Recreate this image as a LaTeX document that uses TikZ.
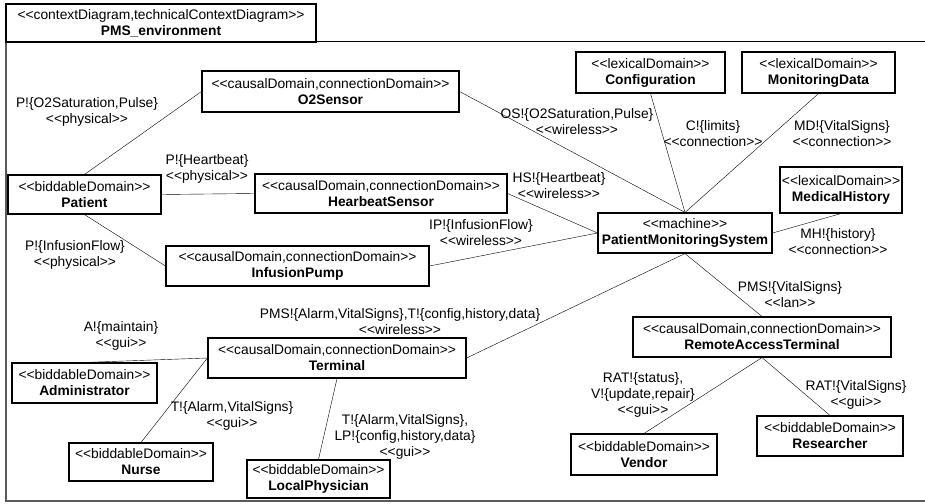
\documentclass[tikz,border=0pt]{standalone}
\usepackage{fontspec}
\setmainfont{Liberation Sans}
\usepackage{tikz}

\newcommand{\stereo}[1]{<{}<#1>{}>}

\begin{document}
\begin{tikzpicture}[
		x=1pt, y=-1pt,
		every node/.style={rectangle, draw, line width=1.1pt, align=center, inner sep=0pt,
			font=\fontsize{13.8}{16}\selectfont},
		box/.style 2 args={minimum width=#1pt, minimum height=#2pt},
		lbl/.style={draw=none}
	]
  \useasboundingbox (0,0) rectangle (925,503);
  \draw[line width=1.6pt, black!65] (6,4) -- (6,501) -- (926,501);
  \draw[line width=1pt] (6,42) -- (926,42);
  \node (pms_env) [box={310}{38}] at (161,23) {\stereo{contextDiagram,technicalContextDiagram}\\\textbf{PMS\_environment}};

  \node (o2) [box={257}{41}] at (330.5,91.5) {\stereo{causalDomain,connectionDomain}\\\textbf{O2Sensor}};
  \node (patient) [box={153}{39}] at (84.5,194.5) {\stereo{biddableDomain}\\\textbf{Patient}};
  \node (hb) [box={252}{39}] at (381,193.5) {\stereo{causalDomain,connectionDomain}\\\textbf{HearbeatSensor}};
  \node (ip) [box={263}{40}] at (297.5,266) {\stereo{causalDomain,connectionDomain}\\\textbf{InfusionPump}};
  \node (config) [box={149}{41}] at (650.5,72.5) {\stereo{lexicalDomain}\\\textbf{Configuration}};
  \node (mon_data) [box={153}{41}] at (818.5,72.5) {\stereo{lexicalDomain}\\\textbf{MonitoringData}};
  \node (med_hist) [box={122}{46}] at (841,190) {\stereo{lexicalDomain}\\\textbf{MedicalHistory}};
  \node (pms) [box={174}{40}] at (685,233) {\stereo{machine}\\\textbf{PatientMonitoringSystem}};
  \node (terminal) [box={258}{40}] at (337,358) {\stereo{causalDomain,connectionDomain}\\\textbf{Terminal}};
  \node (admin) [box={145}{40}] at (84.5,383) {\stereo{biddableDomain}\\\textbf{Administrator}};
  \node (nurse) [box={144}{38}] at (141,462) {\stereo{biddableDomain}\\\textbf{Nurse}};
  \node (lp) [box={143}{38}] at (318.5,479) {\stereo{biddableDomain}\\\textbf{LocalPhysician}};
  \node (rat) [box={258}{40}] at (762,337) {\stereo{causalDomain,connectionDomain}\\\textbf{RemoteAccessTerminal}};
  \node (vendor) [box={146}{41}] at (644,454.5) {\stereo{biddableDomain}\\\textbf{Vendor}};
  \node (researcher) [box={146}{40}] at (830,436) {\stereo{biddableDomain}\\\textbf{Researcher}};

  % phenomena
  \node (l_o2) [lbl] at (87,112) {P!\{O2Saturation,Pulse\}\\\stereo{physical}};
  \node (l_hb) [lbl] at (207,169) {P!\{Heartbeat\}\\\stereo{physical}};
  \node (l_ip) [lbl] at (75,255) {P!\{InfusionFlow\}\\\stereo{physical}};
  \node (l_os) [lbl] at (577,122) {OS!\{O2Saturation,Pulse\}\\\stereo{wireless}};
  \node (l_c) [lbl] at (713,134) {C!\{limits\}\\\stereo{connection}};
  \node (l_md) [lbl] at (842,134) {MD!\{VitalSigns\}\\\stereo{connection}};
  \node (l_hs) [lbl] at (559,186) {HS!\{Heartbeat\}\\\stereo{wireless}};
  \node (l_ipw) [lbl] at (481,233) {IP!\{InfusionFlow\}\\\stereo{wireless}};
  \node (l_mh) [lbl] at (838,242) {MH!\{history\}\\\stereo{connection}};
  \node (l_lan) [lbl] at (790,295) {PMS!\{VitalSigns\}\\\stereo{lan}};
  \node (l_term) [lbl] at (400,322) {PMS!\{Alarm,VitalSigns\},T!\{config,history,data\}\\\stereo{wireless}};
  \node (l_admin) [lbl] at (121,336) {A!\{maintain\}\\\stereo{gui}};
  \node (l_nurse) [lbl] at (232,416) {T!\{Alarm,VitalSigns\}\\\stereo{gui}};
  \node (l_lp) [lbl] at (405,437) {T!\{Alarm,VitalSigns\},\\LP!\{config,history,data\}\\\stereo{gui}};
  \node (l_vendor) [lbl] at (643,395) {RAT!\{status\},\\V!\{update,repair\}\\\stereo{gui}};
  \node (l_res) [lbl] at (856,395) {RAT!\{VitalSigns\}\\\stereo{gui}};

  \draw (patient.north) -- (o2.west);
  \draw (patient.east) -- (hb.west);
  \draw (patient.south) -- (ip.west);
  \draw (o2.east) -- (pms.north);
  \draw (config.south) -- (pms.north);
  \draw (mon_data.south) -- (pms.north);
  \draw (hb.east) -- (pms.west);
  \draw (ip.east) -- (pms.west);
  \draw (pms.east) -- (med_hist.south);
  \draw (pms.south) -- (terminal.east);
  \draw (pms.south) -- (rat.north);
  \draw (rat.south) -- (vendor.north);
  \draw (rat.south) -- (researcher.north);
  \draw (terminal.west) -- (admin.north);
  \draw (terminal.west) -- (nurse.north);
  \draw (terminal.south) -- (lp.north);
\end{tikzpicture}
\end{document}
